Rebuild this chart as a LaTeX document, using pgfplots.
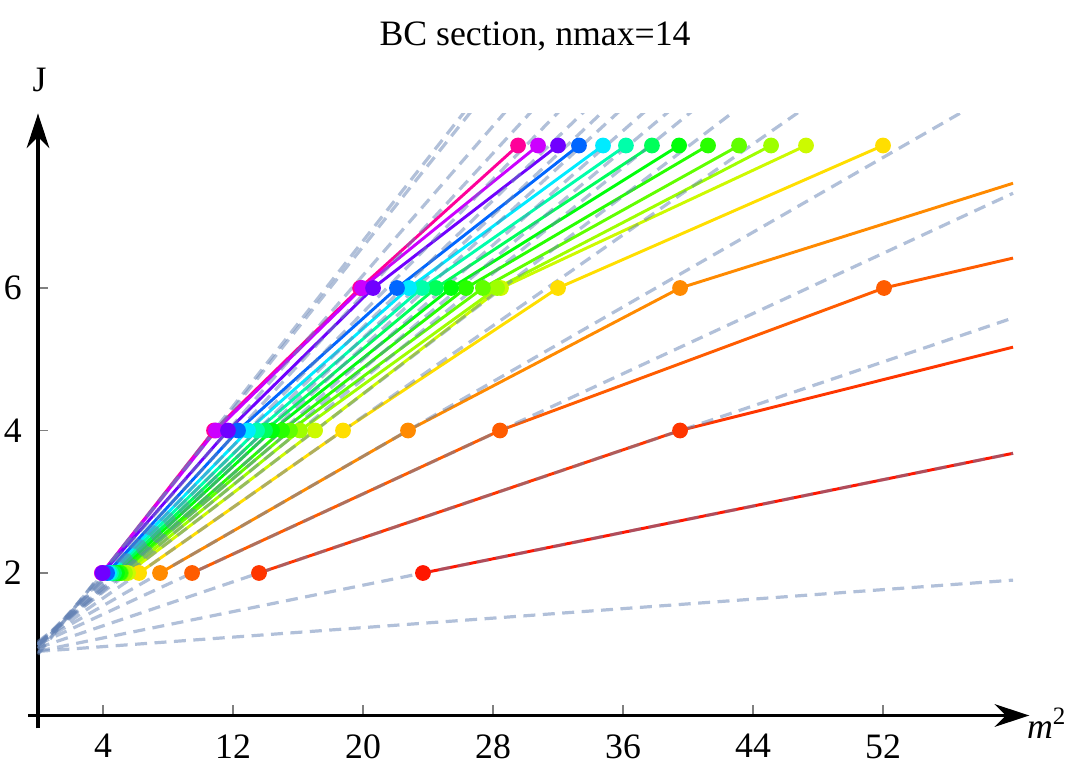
\documentclass[border=0pt]{standalone}
\usepackage{fontspec}
\setmainfont{Liberation Serif}
\usepackage{pgfplots}
\pgfplotsset{compat=1.18}
\usepackage{pgfplotstable}
\usetikzlibrary{arrows.meta}

\definecolor{cPink}{RGB}{255,0,153}
\definecolor{cMag}{RGB}{204,0,255}
\definecolor{cVio}{RGB}{112,0,255}
\definecolor{cBlue}{RGB}{0,102,255}
\definecolor{cCyan}{RGB}{0,235,255}
\definecolor{cAqua}{RGB}{0,255,170}
\definecolor{cGa}{RGB}{0,255,90}
\definecolor{cGb}{RGB}{0,255,10}
\definecolor{cGc}{RGB}{40,255,0}
\definecolor{cLime}{RGB}{97,255,0}
\definecolor{cYG}{RGB}{158,255,0}
\definecolor{cYL}{RGB}{204,250,0}
\definecolor{cYel}{RGB}{255,222,0}
\definecolor{cOr}{RGB}{255,138,0}
\definecolor{cOrR}{RGB}{255,92,0}
\definecolor{cROr}{RGB}{255,54,0}
\definecolor{cRed}{RGB}{255,23,0}
\definecolor{dashcol}{RGB}{100,130,180}

\pgfplotstableread{
x y
3.94 2
10.83 4
19.82 6
29.54 8
}\tPink
\pgfplotstableread{
x y
3.94 2
10.95 4
19.94 6
30.77 8
}\tMag
\pgfplotstableread{
x y
3.98 2
11.69 4
20.62 6
32.00 8
}\tVio
\pgfplotstableread{
x y
4.25 2
12.31 4
22.09 6
33.29 8
}\tBlue
\pgfplotstableread{
x y
4.37 2
12.92 4
22.83 6
34.77 8
}\tCyan
\pgfplotstableread{
x y
4.49 2
13.48 4
23.63 6
36.18 8
}\tAqua
\pgfplotstableread{
x y
4.68 2
13.97 4
24.49 6
37.78 8
}\tGa
\pgfplotstableread{
x y
4.86 2
14.40 4
25.42 6
39.45 8
}\tGb
\pgfplotstableread{
x y
5.05 2
15.02 4
26.34 6
41.23 8
}\tGc
\pgfplotstableread{
x y
5.11 2
15.51 4
27.38 6
43.14 8
}\tLime
\pgfplotstableread{
x y
5.35 2
16.12 4
28.25 6
45.11 8
}\tYG
\pgfplotstableread{
x y
5.54 2
17.05 4
28.49 6
47.26 8
}\tYL
\pgfplotstableread{
x y
6.22 2
18.77 4
32.00 6
52.00 8
}\tYel
\pgfplotstableread{
x y
7.51 2
22.77 4
39.51 6
60.00 7.47
}\tOr
\pgfplotstableread{
x y
9.48 2
28.43 4
52.06 6
60.00 6.42
}\tOrR
\pgfplotstableread{
x y
13.60 2
39.51 4
60.00 5.17
}\tROr
\pgfplotstableread{
x y
23.69 2
60.00 3.68
}\tRed

\begin{document}
\begin{tikzpicture}
\path[use as bounding box] (-14.25pt,-18.5625pt) rectangle (386.25pt,268.3125pt);
\begin{axis}[
  anchor=origin, at={(0pt,0pt)},
  scale only axis,
  width=375.38pt, height=230.58pt,
  xmin=-0.6, xmax=61.0, ymin=-0.18, ymax=8.45,
  axis lines=middle,
  axis line style={line width=1.15pt, black},
  x axis line style={-{Stealth[length=13pt,width=8.5pt]}},
  y axis line style={-{Stealth[length=13pt,width=8.5pt]}},
  xtick={4,12,20,28,36,44,52},
  ytick={2,4,6},
  tick align=center,
  major tick length=3.9pt,
  xtick style={draw=gray, line width=0.7pt, yshift=1.95pt},
  ytick style={draw=gray, line width=0.7pt, xshift=1.95pt},
  tick label style={font=\fontsize{13.4}{15}\selectfont},
  /pgf/number format/assume math mode=true,
  xticklabel style={yshift=-1.6pt},
  yticklabel style={xshift=-0.6pt},
  clip=true,
  every axis plot/.append style={line width=1.1pt},
]
% trajectories (lines)
\addplot[draw=cRed] table {\tRed};
\addplot[draw=cROr] table {\tROr};
\addplot[draw=cOrR] table {\tOrR};
\addplot[draw=cOr] table {\tOr};
\addplot[draw=cYel] table {\tYel};
\addplot[draw=cYL] table {\tYL};
\addplot[draw=cYG] table {\tYG};
\addplot[draw=cLime] table {\tLime};
\addplot[draw=cGc] table {\tGc};
\addplot[draw=cGb] table {\tGb};
\addplot[draw=cGa] table {\tGa};
\addplot[draw=cAqua] table {\tAqua};
\addplot[draw=cCyan] table {\tCyan};
\addplot[draw=cBlue] table {\tBlue};
\addplot[draw=cPink] table {\tPink};
\addplot[draw=cMag] table {\tMag};
\addplot[draw=cVio] table {\tVio};
% linear Regge lines (dashed)
\pgfplotsset{dl/.style={draw=dashcol, draw opacity=0.5, line width=1.2pt, dash pattern=on 4.5pt off 2.8pt}}
\addplot[dl] coordinates {(0,0.856) (60,18.27)};
\addplot[dl] coordinates {(0,0.876) (60,17.99)};
\addplot[dl] coordinates {(0,0.936) (60,16.66)};
\addplot[dl] coordinates {(0,0.945) (60,15.83)};
\addplot[dl] coordinates {(0,0.978) (60,15.01)};
\addplot[dl] coordinates {(0,1.001) (60,14.35)};
\addplot[dl] coordinates {(0,0.992) (60,13.91)};
\addplot[dl] coordinates {(0,0.981) (60,13.56)};
\addplot[dl] coordinates {(0,0.987) (60,13.02)};
\addplot[dl] coordinates {(0,1.017) (60,12.55)};
\addplot[dl] coordinates {(0,1.006) (60,12.15)};
\addplot[dl] coordinates {(0,1.037) (60,11.46)};
\addplot[dl] coordinates {(0,1.009) (60,10.57)};
\addplot[dl] coordinates {(0,1.016) (60,8.88)};
\addplot[dl] coordinates {(0,0.999) (60,7.33)};
\addplot[dl] coordinates {(0,0.950) (60,5.58)};
\addplot[dl] coordinates {(0,0.903) (60,3.68)};
\addplot[dl] coordinates {(0,0.900) (60,1.90)};
% points
\pgfplotsset{pm/.style={only marks, mark=*, mark size=2.4pt, restrict x to domain=0:59}}
\addplot[pm, color=cRed] table {\tRed};
\addplot[pm, color=cROr] table {\tROr};
\addplot[pm, color=cOrR] table {\tOrR};
\addplot[pm, color=cOr] table {\tOr};
\addplot[pm, color=cYel] table {\tYel};
\addplot[pm, color=cYL] table {\tYL};
\addplot[pm, color=cYG] table {\tYG};
\addplot[pm, color=cLime] table {\tLime};
\addplot[pm, color=cGc] table {\tGc};
\addplot[pm, color=cGb] table {\tGb};
\addplot[pm, color=cGa] table {\tGa};
\addplot[pm, color=cAqua] table {\tAqua};
\addplot[pm, color=cCyan] table {\tCyan};
\addplot[pm, color=cBlue] table {\tBlue};
\addplot[pm, color=cPink] table {\tPink};
\addplot[pm, color=cMag] table {\tMag};
\addplot[pm, color=cVio] table {\tVio};
\end{axis}
\node[font=\fontsize{13.4}{15}\selectfont] at (186.4pt,254.6pt) {BC section, nmax=14};
\node[font=\fontsize{13.4}{15}\selectfont] at (0.6pt,238.5pt) {J};
\node[font=\fontsize{13.4}{15}\selectfont, anchor=east, inner sep=0pt] at (386pt,-2.8pt) {\textit{m}\textsuperscript{2}};
\end{tikzpicture}
\end{document}
